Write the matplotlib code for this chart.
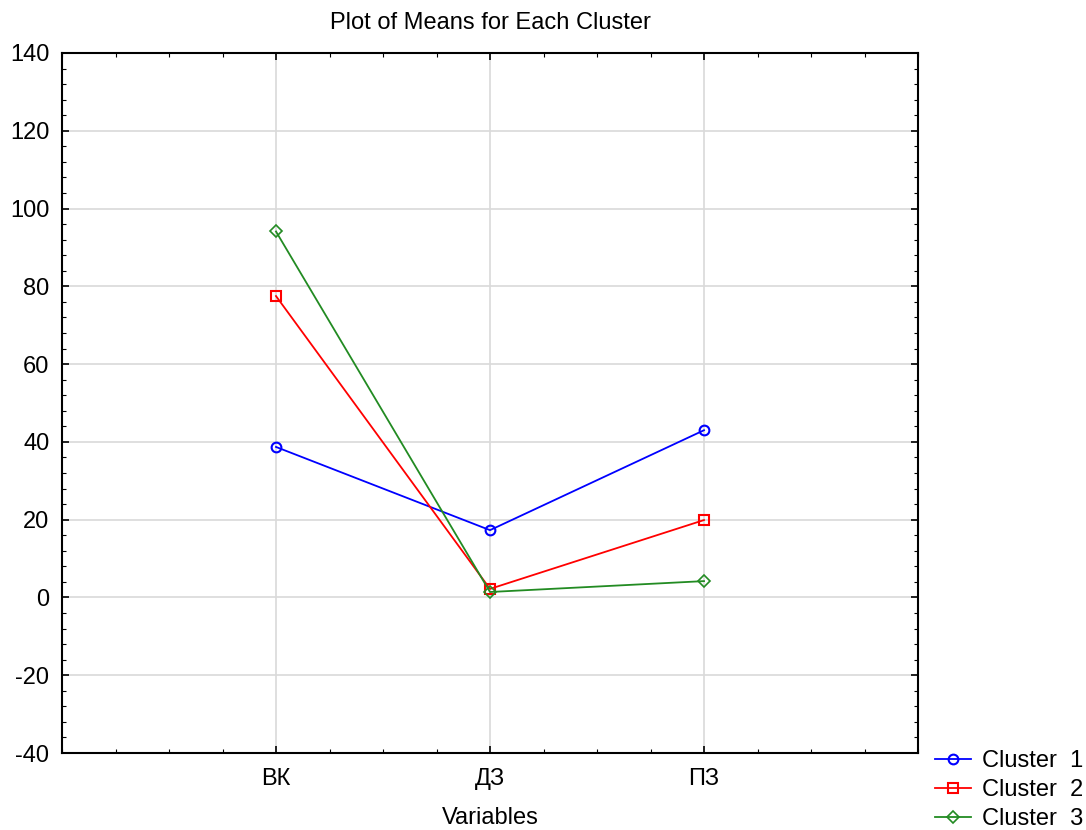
import numpy as np
import matplotlib.pyplot as plt
from matplotlib.ticker import MultipleLocator

plt.rcParams['font.family'] = ['Liberation Sans', 'DejaVu Sans']
plt.rcParams['axes.unicode_minus'] = False

variables = ['ВК', 'ДЗ', 'ПЗ']
cluster_1 = [38.7, 17.3, 43.0]
cluster_2 = [77.5, 2.2, 19.9]
cluster_3 = [94.1, 1.4, 4.2]
labels = ['Cluster  1', 'Cluster  2', 'Cluster  3']

fig = plt.figure(figsize=(10.86, 8.30), dpi=100)
ax = fig.add_axes([62 / 1086, 1 - 753 / 830, (918 - 62) / 1086, (753 - 53) / 830])

x = np.arange(1, len(variables) + 1)
ax.plot(x, cluster_1, color='#0000ff', marker='o', mfc='none', ms=7, mew=1.5, lw=1.3, label=labels[0])
ax.plot(x, cluster_2, color='#ff0000', marker='s', mfc='none', ms=7, mew=1.5, lw=1.3, label=labels[1])
ax.plot(x, cluster_3, color='#228b22', marker='D', mfc='none', ms=6, mew=1.2, lw=1.3, label=labels[2])

ax.set_xlim(0, 4)
ax.set_ylim(-40, 140)
ax.set_xticks(x)
ax.set_xticklabels(variables)
ax.yaxis.set_major_locator(MultipleLocator(20))
ax.yaxis.set_minor_locator(MultipleLocator(4))
ax.xaxis.set_minor_locator(MultipleLocator(0.25))
ax.tick_params(which='both', direction='in', top=True, right=True, labelsize=17)
ax.tick_params(axis='x', which='major', pad=11)
ax.tick_params(axis='y', which='major', pad=9)
ax.tick_params(which='major', length=5, width=1.2)
ax.tick_params(which='minor', length=3, width=0.8)
ax.grid(True, which='major', color='#d9d9d9', lw=1.2)
ax.set_axisbelow(True)
for s in ax.spines.values():
    s.set_linewidth(1.5)

ax.set_title('Plot of Means for Each Cluster', fontsize=17, pad=17)
ax.set_xlabel('Variables', fontsize=17, labelpad=12)

ax.legend(loc='upper left', bbox_to_anchor=(1.02, 0.004), frameon=False, fontsize=17,
          handlelength=1.5, handletextpad=0.5, labelspacing=0.29, borderaxespad=0, borderpad=0)

fig.savefig('out.png', dpi=100)
